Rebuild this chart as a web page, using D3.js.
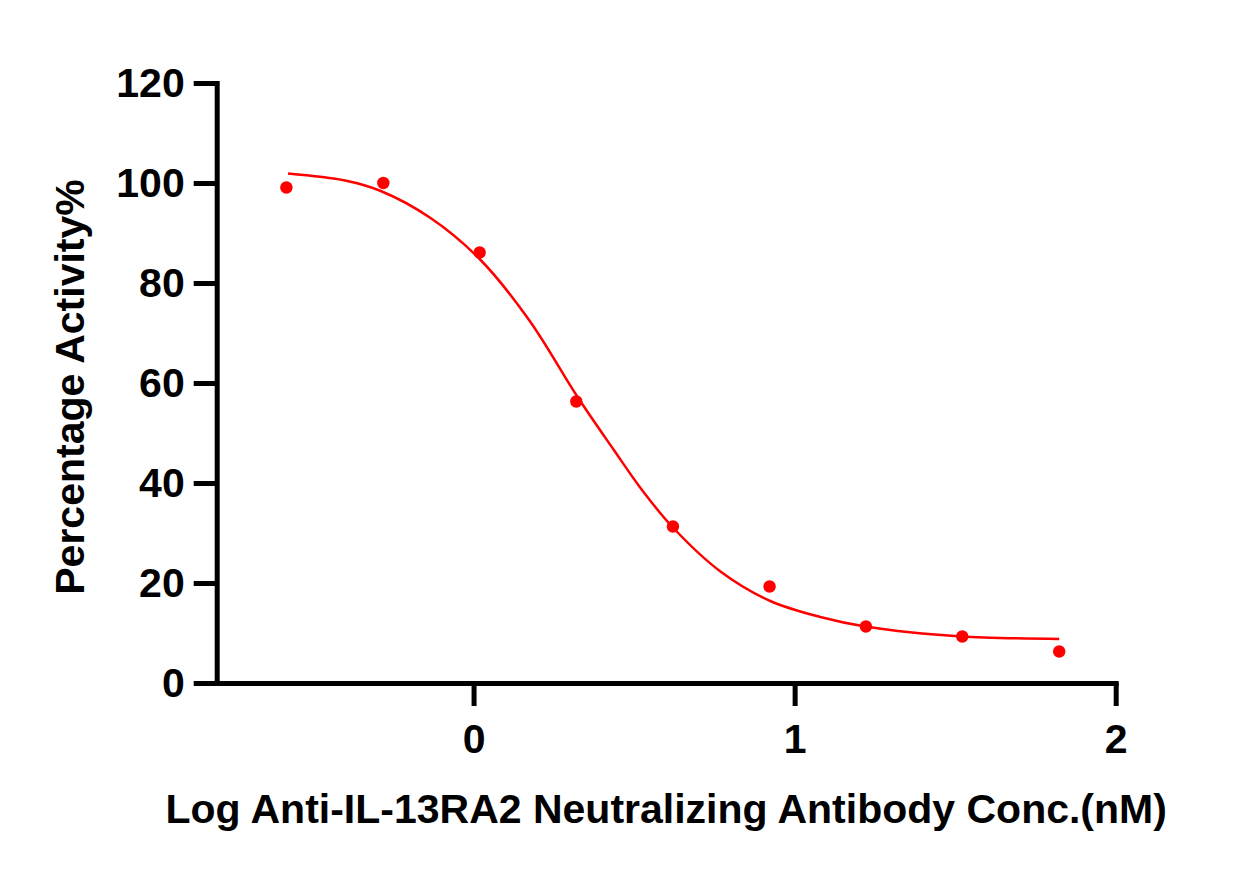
<!DOCTYPE html>
<html>
<head>
<meta charset="utf-8">
<script src="https://cdn.jsdelivr.net/npm/d3@7"></script>
<style>
  html, body { margin: 0; padding: 0; background: #fff; }
  svg { display: block; }
  text { font-family: "Liberation Sans", Arial, sans-serif; font-weight: bold; }
</style>
</head>
<body>
<svg id="chart" width="1259" height="876"></svg>
<script>
// ---- Data ----
const logConc = [-0.583, -0.281, 0.019, 0.320, 0.621, 0.922, 1.222, 1.522, 1.824];
const activity = [99.1, 100.0, 86.1, 56.3, 31.3, 19.3, 11.3, 9.3, 6.3];

// Fitted curve as drawn in the reference
const curveX = [-0.578, -0.4, -0.289, -0.134, 0.022, 0.175, 0.323, 0.437, 0.52, 0.618, 0.769, 0.924, 1.08, 1.22, 1.52, 1.824];
const curveY = [101.9, 100.5, 98.4, 93.0, 84.6, 72.4, 57.3, 46.6, 39.0, 31.3, 22.3, 16.4, 13.2, 11.3, 9.3, 8.8];

const xTicks = [0, 1, 2];
const yTicks = [0, 20, 40, 60, 80, 100, 120];
const xTitle = "Log Anti-IL-13RA2 Neutralizing Antibody Conc.(nM)";
const yTitle = "Percentage Activity%";

// ---- Layout ----
const svg = d3.select("#chart");
const mLeft = 216.7, mRight = 1115.7, mTop = 83, mBottom = 683;
const x = d3.scaleLinear().domain([-0.8, 2]).range([mLeft, mRight]);
const y = d3.scaleLinear().domain([0, 120]).range([mBottom, mTop]);
const red = "#ff0000";
const tickLen = 23;
const axisW = 5;
const fontSize = 41;

// Y axis
const yAxis = svg.append("g")
  .attr("transform", `translate(${mLeft},0)`)
  .call(d3.axisLeft(y).tickValues(yTicks).tickSize(tickLen).tickSizeOuter(0).tickPadding(9));
yAxis.select(".domain").attr("stroke", "#000").attr("stroke-width", axisW).attr("stroke-linecap", "square");
yAxis.selectAll(".tick line").attr("stroke", "#000").attr("stroke-width", axisW);
yAxis.selectAll(".tick text").attr("font-size", fontSize).attr("fill", "#000")
  .attr("font-family", "'Liberation Sans', Arial, sans-serif").attr("font-weight", "bold");

// X axis
const xAxis = svg.append("g")
  .attr("transform", `translate(0,${mBottom})`)
  .call(d3.axisBottom(x).tickValues(xTicks).tickFormat(d3.format("d")).tickSize(tickLen).tickSizeOuter(0).tickPadding(18));
xAxis.select(".domain").attr("stroke", "#000").attr("stroke-width", axisW).attr("stroke-linecap", "square");
xAxis.selectAll(".tick line").attr("stroke", "#000").attr("stroke-width", axisW);
xAxis.selectAll(".tick text").attr("font-size", fontSize).attr("fill", "#000")
  .attr("font-family", "'Liberation Sans', Arial, sans-serif").attr("font-weight", "bold");

// Curve
const line = d3.line()
  .x((d, i) => x(curveX[i]))
  .y((d, i) => y(curveY[i]))
  .curve(d3.curveCatmullRom.alpha(0.5));
svg.append("path")
  .datum(curveX)
  .attr("d", line)
  .attr("fill", "none")
  .attr("stroke", red)
  .attr("stroke-width", 2.5);

// Points
svg.append("g").selectAll("circle")
  .data(logConc)
  .join("circle")
  .attr("cx", d => x(d))
  .attr("cy", (d, i) => y(activity[i]))
  .attr("r", 6.2)
  .attr("fill", red);

// Axis titles
svg.append("text")
  .attr("x", (mLeft + mRight) / 2)
  .attr("y", 823)
  .attr("text-anchor", "middle")
  .attr("font-size", fontSize)
  .attr("fill", "#000")
  .text(xTitle);

svg.append("text")
  .attr("transform", `translate(84,${(mTop + mBottom) / 2 + 4}) rotate(-90)`)
  .attr("text-anchor", "middle")
  .attr("font-size", fontSize)
  .attr("fill", "#000")
  .text(yTitle);
</script>
</body>
</html>
